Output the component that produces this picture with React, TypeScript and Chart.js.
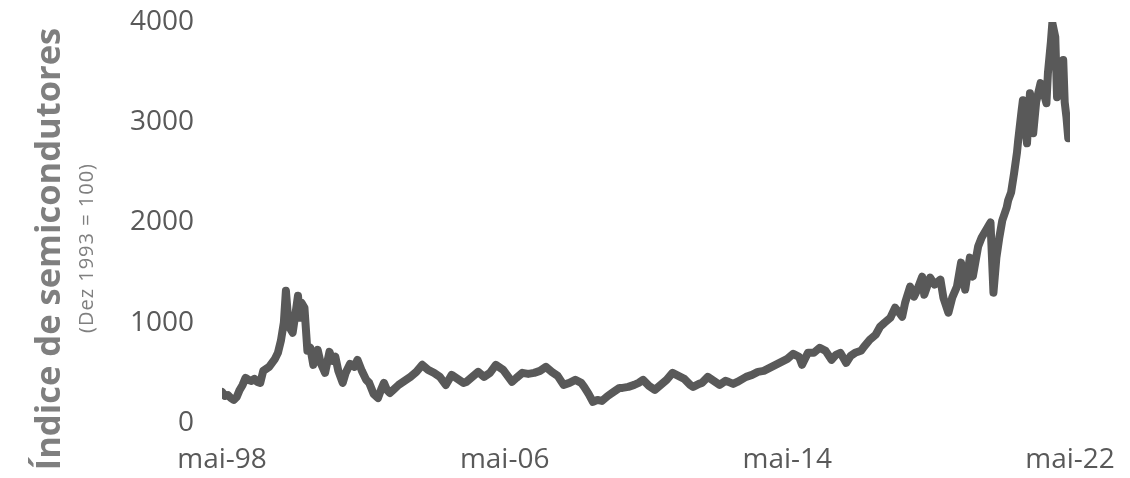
import React, { useEffect, useRef } from "react";
import { Chart, registerables } from "chart.js";

Chart.register(...registerables);

// ---- Data ----
const dates: string[] = [
  "1998-05-01","1998-06-01","1998-07-01","1998-08-01","1998-09-01","1998-10-01","1998-11-01","1998-12-01",
  "1999-01-01","1999-02-01","1999-03-01","1999-04-01","1999-05-01","1999-06-01","1999-07-01","1999-08-01",
  "1999-09-01","1999-10-01","1999-11-01","1999-12-01","2000-01-01","2000-02-01","2000-02-22","2000-03-10",
  "2000-04-01","2000-05-01","2000-06-01","2000-06-25","2000-07-16","2000-08-01","2000-09-01","2000-10-01",
  "2000-11-01","2000-12-01","2001-01-16","2001-02-16","2001-04-01","2001-05-16","2001-06-16","2001-07-16",
  "2001-08-16","2001-10-01","2001-11-01","2001-12-16","2002-02-01","2002-03-01","2002-04-16","2002-06-01",
  "2002-07-01","2002-08-16","2002-10-01","2002-11-01","2002-12-01","2003-01-01","2003-02-01","2003-03-16",
  "2003-05-01","2003-06-16","2003-08-01","2003-09-01","2003-11-01","2004-01-01","2004-03-01","2004-05-01",
  "2004-07-01","2004-09-01","2004-11-01","2005-01-01","2005-03-01","2005-04-01","2005-06-01","2005-08-01",
  "2005-10-01","2005-12-01","2006-02-01","2006-04-16","2006-07-16","2006-09-01","2006-11-01","2007-01-01",
  "2007-03-01","2007-05-01","2007-07-01","2007-09-01","2007-11-01","2008-01-01","2008-03-01","2008-05-01",
  "2008-07-01","2008-08-01","2008-09-16","2008-11-01","2008-12-16","2009-02-01","2009-04-01","2009-06-01",
  "2009-08-01","2009-09-01","2009-11-01","2010-01-01","2010-02-16","2010-04-01","2010-06-01","2010-08-01",
  "2010-10-01","2010-12-01","2011-02-01","2011-04-01","2011-06-01","2011-08-01","2011-09-01","2011-11-01",
  "2011-12-01","2012-02-01","2012-04-01","2012-06-01","2012-08-01","2012-09-01","2012-10-19","2012-12-01",
  "2013-03-01","2013-05-01","2013-07-01","2013-09-01","2013-11-01","2014-01-01","2014-03-01","2014-05-01",
  "2014-07-01","2014-09-01","2014-10-01","2014-12-01","2015-02-01","2015-04-01","2015-06-01","2015-08-01",
  "2015-09-16","2015-11-01","2016-01-01","2016-02-16","2016-04-01","2016-06-01","2016-07-01","2016-09-01",
  "2016-11-01","2016-12-16","2017-02-01","2017-04-01","2017-05-19","2017-07-01","2017-08-01","2017-09-01",
  "2017-10-22","2017-12-01","2018-01-01","2018-02-25","2018-03-16","2018-05-16","2018-07-01","2018-09-01",
  "2018-10-01","2018-11-22","2019-01-01","2019-02-19","2019-04-01","2019-05-13","2019-07-01","2019-08-01",
  "2019-09-25","2019-11-01","2020-01-01","2020-02-01","2020-03-01","2020-04-01","2020-05-01","2020-06-01",
  "2020-07-16","2020-08-01","2020-09-01","2020-10-01","2020-11-01","2020-11-13","2020-12-16","2021-01-01",
  "2021-02-13","2021-03-13","2021-04-16","2021-05-16","2021-07-01","2021-08-01","2021-09-01","2021-09-16",
  "2021-10-16","2021-11-01","2021-12-01","2021-12-19","2022-01-16","2022-02-07","2022-02-22","2022-03-07",
  "2022-03-25","2022-04-13"
];

const indexValues: number[] = [
  310,270,280,250,230,260,330,380,
  450,430,420,440,410,400,520,540,
  560,600,640,700,820,1000,1320,1100,
  950,900,1100,1270,1050,1200,1150,720,
  750,580,730,600,500,710,620,660,
  520,400,500,590,560,630,520,430,
  400,290,250,330,400,330,300,340,
  380,410,440,460,510,580,530,500,
  460,380,480,440,400,410,460,510,
  460,500,580,530,410,450,500,490,
  500,520,560,510,470,380,400,430,
  400,360,290,210,230,220,270,310,
  350,350,360,380,400,430,370,330,
  380,430,500,470,440,380,360,390,
  400,460,420,380,420,410,390,410,
  460,480,510,520,550,580,610,640,
  690,660,580,700,700,750,720,630,
  680,700,600,670,700,720,760,830,
  880,960,1000,1050,1150,1100,1060,1200,
  1360,1260,1320,1460,1280,1450,1380,1430,
  1250,1100,1250,1360,1600,1330,1650,1460,
  1760,1850,1950,2000,1300,1650,1850,2020,
  2150,2220,2300,2490,2700,2820,3100,3220,
  2790,3290,2890,3200,3390,3300,3190,3490,
  3800,3990,3850,3250,3450,3300,3620,3200,
  3050,2840
];

const xTickDates: string[] = ["1998-05-01", "2006-05-01", "2014-05-01", "2022-05-01"];
const xTickLabels: string[] = ["mai-98", "mai-06", "mai-14", "mai-22"];
const yTickValues: number[] = [0, 1000, 2000, 3000, 4000];

const yTitle = "Índice de semicondutores";
const ySubtitle = "(Dez 1993 = 100)";

// months elapsed since May 1998
function toMonths(d: string): number {
  const [y, m, dd] = d.split("-").map(Number);
  return (y - 1998) * 12 + (m - 5) + (dd - 1) / 30;
}

const titlePlugin = {
  id: "sideTitles",
  afterDraw(chart: any) {
    const ctx = chart.ctx as CanvasRenderingContext2D;
    ctx.save();
    ctx.fillStyle = "#7f7f7f";
    ctx.textAlign = "center";
    ctx.textBaseline = "alphabetic";
    ctx.font = "bold 34.5px 'Open Sans'";
    ctx.translate(60, 249);
    ctx.rotate(-Math.PI / 2);
    ctx.fillText(yTitle, 0, 0);
    ctx.restore();

    ctx.save();
    ctx.fillStyle = "#7f7f7f";
    ctx.textAlign = "center";
    ctx.textBaseline = "alphabetic";
    ctx.font = "20px 'Open Sans'";
    (ctx as any).letterSpacing = "1px";
    ctx.translate(93, 248);
    ctx.rotate(-Math.PI / 2);
    ctx.fillText(ySubtitle, 0, 0);
    ctx.restore();
  },
};

export default function App() {
  const canvasRef = useRef<HTMLCanvasElement | null>(null);

  useEffect(() => {
    document.body.style.margin = "0";
    if (!canvasRef.current) return;
    const points = dates.map((d, i) => ({ x: toMonths(d), y: indexValues[i] }));
    const xTickPos = xTickDates.map(toMonths);

    const chart = new Chart(canvasRef.current, {
      type: "line",
      data: {
        datasets: [
          {
            data: points,
            borderColor: "#595959",
            borderWidth: 8,
            pointRadius: 0,
            tension: 0,
            borderJoinStyle: "round",
            borderCapStyle: "round",
            fill: false,
          },
        ],
      },
      options: {
        animation: false,
        responsive: true,
        maintainAspectRatio: false,
        layout: { padding: { left: 0, right: 60, top: 22, bottom: 0 } },
        plugins: { legend: { display: false }, tooltip: { enabled: false } },
        scales: {
          x: {
            type: "linear",
            min: xTickPos[0],
            max: xTickPos[xTickPos.length - 1],
            grid: { display: false, drawTicks: false },
            border: { display: false },
            afterBuildTicks: (scale: any) => {
              scale.ticks = xTickPos.map((v) => ({ value: v }));
            },
            afterFit: (scale: any) => {
              scale.height = 55;
              scale.paddingLeft = 0;
              scale.paddingRight = 40;
            },
            ticks: {
              autoSkip: false,
              maxRotation: 0,
              padding: 20,
              color: "#595959",
              font: { family: "'Open Sans'", size: 28 },
              callback: (_v: any, i: number) => xTickLabels[i],
            },
          },
          y: {
            min: 0,
            max: 4000,
            grid: { display: false, drawTicks: false },
            border: { display: false },
            afterBuildTicks: (scale: any) => {
              scale.ticks = yTickValues.map((v) => ({ value: v }));
            },
            afterFit: (scale: any) => {
              scale.width = 222;
              scale.paddingTop = 17;
              scale.paddingBottom = 17;
            },
            ticks: {
              padding: 28,
              color: "#595959",
              font: { family: "'Open Sans'", size: 28 },
              callback: (v: any) => String(v),
            },
          },
        },
      },
      plugins: [titlePlugin],
    });
    return () => chart.destroy();
  }, []);

  return (
    <div style={{ width: 1130, height: 478, position: "relative", background: "#fff" }}>
      <canvas ref={canvasRef} />
    </div>
  );
}
